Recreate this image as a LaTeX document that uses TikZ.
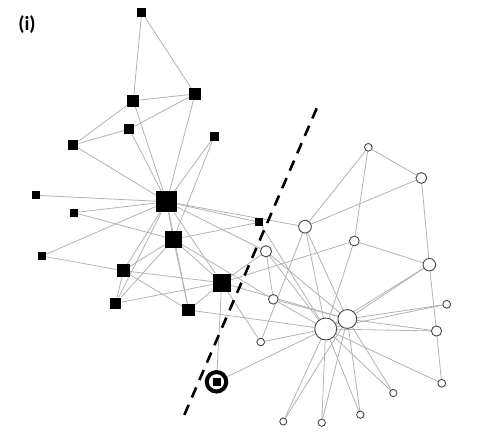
\documentclass[tikz,border=0pt]{standalone}
\usepackage{fontspec}
\newfontfamily\labfont{Carlito}
\usetikzlibrary{backgrounds}
\tikzset{
  sq/.style={rectangle, fill=black, inner sep=0pt, minimum size=#1},
  cr/.style={circle, draw=black!72, fill=white, line width=0.9pt, inner sep=0pt, minimum size=#1},
  ring/.style={circle, draw=black, line width=4pt, inner sep=0pt, minimum size=#1},
  edge/.style={draw=black!30, line width=0.8pt},
  cut/.style={draw=black, line width=2.6pt, dash pattern=on 11pt off 8pt},
}
\begin{document}
\begin{tikzpicture}[x=1pt,y=-1pt]
\useasboundingbox (0,0) rectangle (478,447);
% squares
\node[sq=21pt]   (n1)  at (166.7,201.7) {};
\node[sq=16.7pt] (n2)  at (173.3,239.3) {};
\node[sq=18pt]   (n3)  at (221.7,282.7) {};
\node[sq=13pt]   (n4)  at (123.3,270.7) {};
\node[sq=10.3pt] (n5)  at (129.3,129) {};
\node[sq=11.7pt] (n6)  at (133.3,100.7) {};
\node[sq=11.7pt] (n7)  at (195,94) {};
\node[sq=11.5pt] (n8)  at (115.7,303.3) {};
\node[sq=8pt]    (n10s) at (216.5,381.8) {};
\node[ring=19.5pt] (n10) at (216.5,381.8) {};
\node[sq=10pt]   (n11) at (73.3,145) {};
\node[sq=8pt]    (n12) at (36,195.3) {};
\node[sq=8.3pt]  (n13) at (42,256) {};
\node[sq=12.7pt] (n14) at (188.7,310) {};
\node[sq=9pt]    (n17) at (141.7,12.3) {};
\node[sq=8.7pt]  (n18) at (214.3,136.3) {};
\node[sq=8.3pt]  (n20) at (259.3,222.3) {};
\node[sq=8.3pt]  (n22) at (74,212.7) {};
% circles
\node[cr=11.2pt] (n9)  at (266,251.3) {};
\node[cr=7.8pt]  (n15) at (446.7,304.3) {};
\node[cr=7.3pt]  (n16) at (393.3,393) {};
\node[cr=7.3pt]  (n19) at (360.3,414.7) {};
\node[cr=7.1pt]  (n21) at (283.3,421.5) {};
\node[cr=7.3pt]  (n23) at (321.7,422.7) {};
\node[cr=12.5pt] (n24) at (429.3,264.7) {};
\node[cr=7.7pt]  (n25) at (368.3,147.3) {};
\node[cr=10.8pt] (n26) at (421.3,178) {};
\node[cr=7.8pt]  (n27) at (441.7,383.3) {};
\node[cr=9.8pt]  (n28) at (354.3,241) {};
\node[cr=7.7pt]  (n29) at (260.7,342) {};
\node[cr=10.2pt] (n30) at (436.5,331) {};
\node[cr=9.6pt]  (n31) at (273.3,299.3) {};
\node[cr=12.7pt] (n32) at (305,226.7) {};
\node[cr=18.8pt] (n33) at (347.3,319) {};
\node[cr=22pt]   (n34) at (325.7,329) {};
% label
\node[font=\labfont\bfseries\fontsize{20}{20}\selectfont, inner sep=0pt] (lab) at (27,25) {(i)};
% edges
\begin{pgfonlayer}{background}
\foreach \a/\b in {1/2,1/3,1/4,1/5,1/6,1/7,1/8,1/9,1/11,1/12,1/13,1/14,1/18,1/20,1/22,1/32,
  2/3,2/4,2/8,2/14,2/18,2/20,2/22,2/31,
  3/4,3/8,3/9,3/10,3/14,3/28,3/29,3/33,
  4/8,4/13,4/14,
  5/7,5/11,
  6/7,6/11,6/17,
  7/17,
  9/31,9/33,9/34,
  10/34,14/34,
  15/33,15/34,16/33,16/34,19/33,19/34,20/34,21/33,21/34,23/33,23/34,
  24/26,24/28,24/30,24/33,24/34,
  25/26,25/28,25/32,
  26/32,27/30,27/34,28/34,29/32,29/34,30/33,30/34,31/33,31/34,32/33,32/34,33/34}
  \draw[edge] (n\a) -- (n\b);
\end{pgfonlayer}
% cut line
\coordinate (d1) at (316.7,108.3);
\coordinate (d2) at (183.3,417.3);
\draw[cut] (d1) -- (d2);
\end{tikzpicture}
\end{document}
